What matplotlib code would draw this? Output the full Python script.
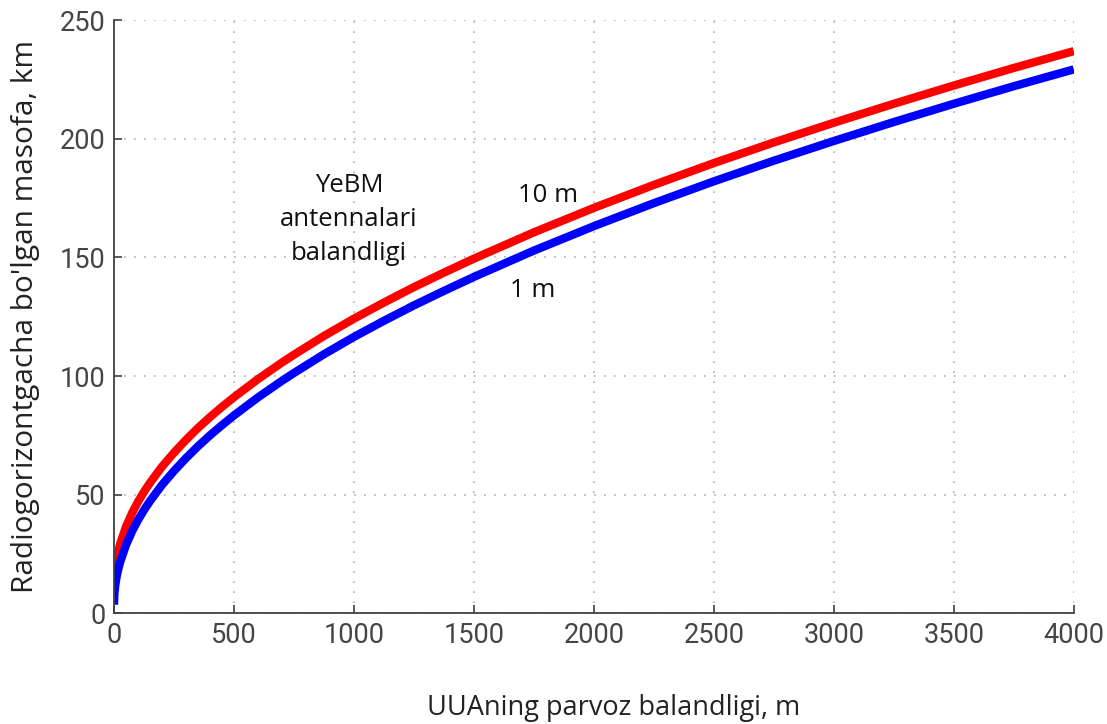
import numpy as np
import matplotlib
matplotlib.use("Agg")
import matplotlib.pyplot as plt

# Flight altitude of the UAV, m
altitude = [0, 1, 2, 5, 10, 15, 25, 50, 75, 100, 125, 150, 200, 250, 300, 350,
            400, 450, 500, 600, 700, 750, 875, 1000, 1125, 1250, 1375, 1500,
            1750, 2000, 2250, 2500, 2750, 3000, 3250, 3500, 3750, 4000]
# Radio horizon distance, km (antenna height 1 m)
dist_1m = [3.6, 7.1, 8.6, 11.6, 14.9, 17.4, 21.4, 28.8, 34.5, 39.3, 43.5, 47.3,
           54.1, 60.0, 65.4, 70.4, 75.0, 79.3, 83.4, 91.0, 98.0, 101.3, 109.2,
           116.5, 123.3, 129.8, 135.9, 141.8, 152.9, 163.2, 172.9, 182.1,
           190.8, 199.1, 207.1, 214.8, 222.2, 229.3]
# Radio horizon distance, km (antenna height 10 m)
dist_10m = [11.3, 14.9, 16.3, 19.3, 22.6, 25.1, 29.1, 36.5, 42.2, 47.0, 51.2,
            55.0, 61.8, 67.7, 73.1, 78.1, 82.7, 87.0, 91.1, 98.7, 105.7, 109.0,
            116.9, 124.2, 131.0, 137.5, 143.6, 149.5, 160.6, 170.9, 180.6,
            189.8, 198.5, 206.8, 214.8, 222.5, 229.9, 237.0]

xticks = [0, 500, 1000, 1500, 2000, 2500, 3000, 3500, 4000]
yticks = [0, 50, 100, 150, 200, 250]

tick_font = ["Liberation Sans Narrow", "Roboto", "DejaVu Sans"]
text_font = "Open Sans"

fig = plt.figure(figsize=(11.07, 7.24), dpi=100)
ax = fig.add_axes([0.103, 0.153, 0.867, 0.819])

ax.plot(altitude, dist_10m, color="#ff0000", lw=6, solid_capstyle="butt")
ax.plot(altitude, dist_1m, color="#0000ff", lw=6, solid_capstyle="butt")

ax.set_xlim(0, 4000)
ax.set_ylim(0, 250)
ax.set_xticks(xticks, labels=[str(v) for v in xticks], fontfamily=tick_font)
ax.set_yticks(yticks, labels=[str(v) for v in yticks], fontfamily=tick_font)
ax.grid(True, linestyle=(0, (1, 5)), color="#b0b0b0", lw=1.2)
ax.spines["top"].set_visible(False)
ax.spines["right"].set_visible(False)
for s in ["left", "bottom"]:
    ax.spines[s].set_color("#404040")
    ax.spines[s].set_linewidth(1.3)
ax.tick_params(direction="in", length=6, width=1.2, color="#404040",
               labelsize=19.5, labelcolor="#454545", pad=6)

ax.set_xlabel("UUAning parvoz balandligi, m", fontsize=19.5, family=text_font,
              color="#222222")
ax.xaxis.set_label_coords(0.521, -0.136)
ax.set_ylabel("Radiogorizontgacha bo'lgan masofa, km", fontsize=21.5,
              family=text_font, color="#222222", labelpad=14)

ax.text(979, 166, "YeBM\nantennalari\nbalandligi", ha="center", va="center",
        fontsize=18.5, family=text_font, linespacing=1.45, color="#111111")
ax.text(1808, 176, "10 m", ha="center", va="center", fontsize=18.5,
        family=text_font, color="#111111")
ax.text(1746, 136, "1 m", ha="center", va="center", fontsize=18.5,
        family=text_font, color="#111111")

fig.savefig("out.png", dpi=100)
